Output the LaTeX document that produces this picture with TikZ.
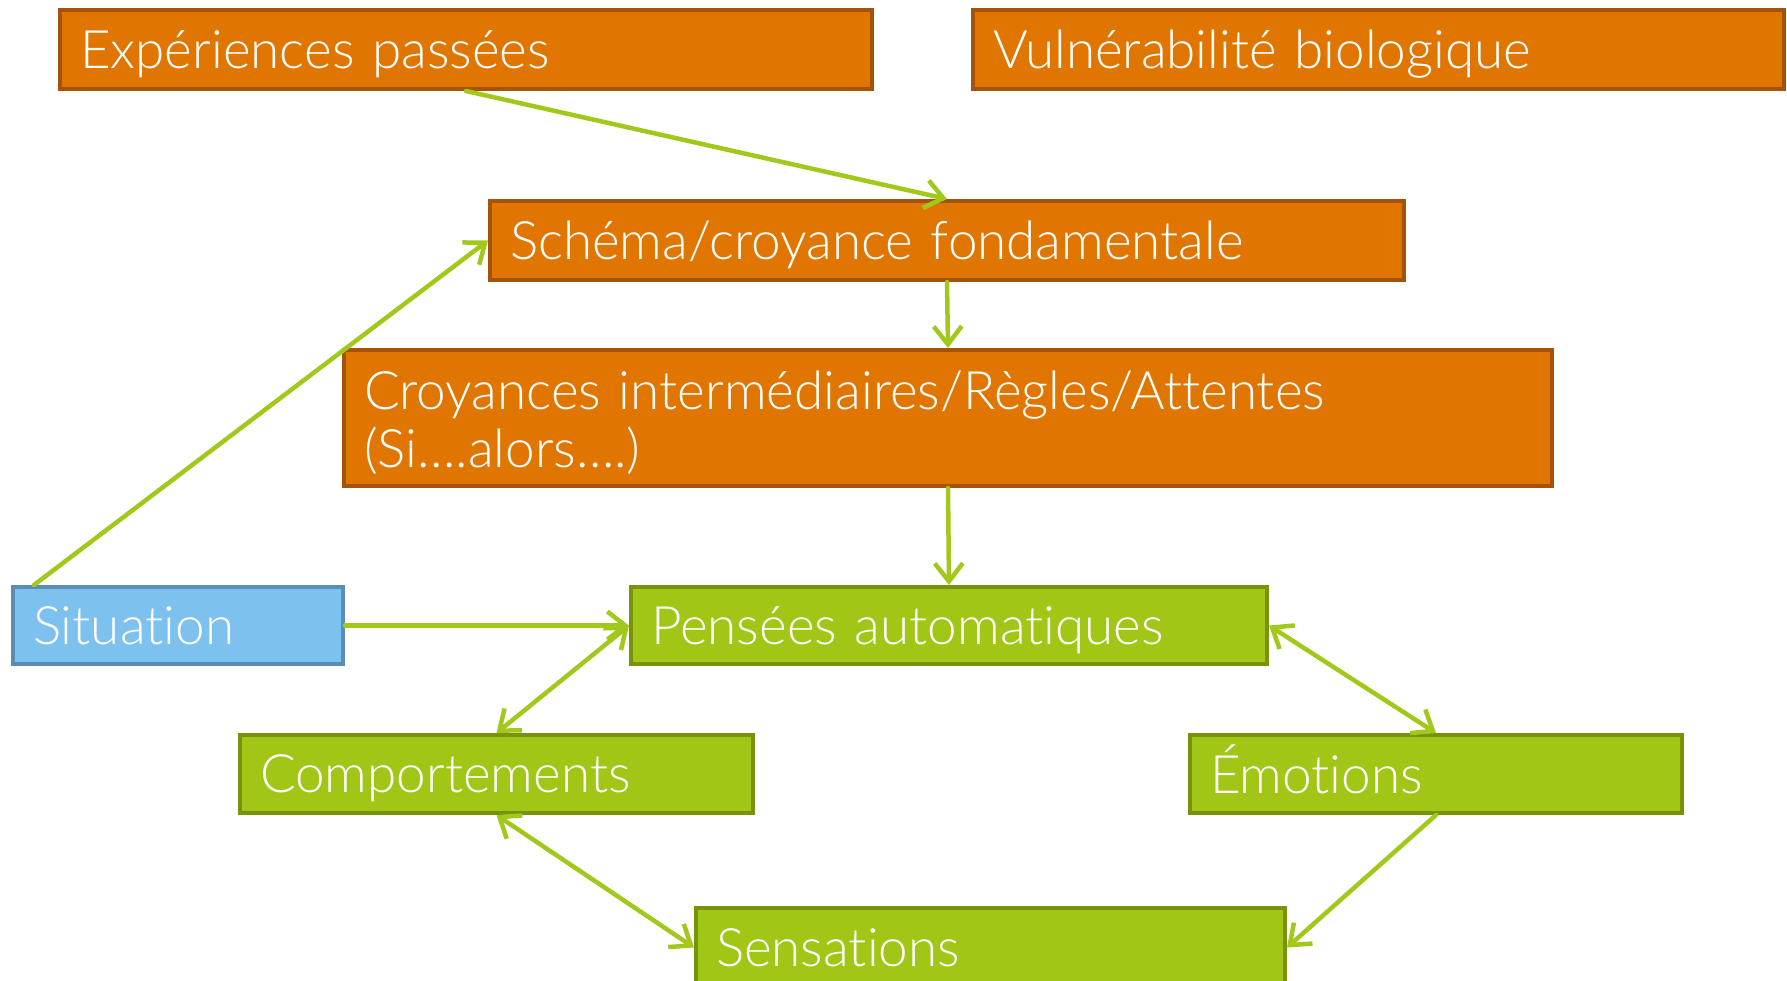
\documentclass[tikz,border=0pt]{standalone}
\usepackage{fontspec}
\setmainfont{Lato Light}[Ligatures=NoCommon]
\usetikzlibrary{arrows.meta}
\definecolor{orfill}{HTML}{E07600}
\definecolor{ordraw}{HTML}{A5530A}
\definecolor{grfill}{HTML}{A2C615}
\definecolor{grdraw}{HTML}{789209}
\definecolor{blfill}{HTML}{7DC1EE}
\definecolor{bldraw}{HTML}{5A8DB5}
\definecolor{link}{HTML}{A3C81C}
\newcommand\bstrut{\rule[-0.2em]{0pt}{1.1em}}

\begin{document}
\begin{tikzpicture}[x=1pt,y=-1pt,font=\fontsize{53}{58}\selectfont,
  >={Straight Barb[length=18pt,width=28pt]},
  box/.style={draw,line width=4pt,text=white,anchor=north west,align=left,inner xsep=20pt,inner ysep=0pt,execute at begin node=\bstrut},
  obox/.style={box,fill=orfill,draw=ordraw},
  gbox/.style={box,fill=grfill,draw=grdraw},
  bbox/.style={box,fill=blfill,draw=bldraw},
  arr/.style={draw=link,line width=4.5pt,line cap=round}]
\useasboundingbox (0,0) rectangle (1787,980);

\node[obox,text width=772pt,minimum height=79pt] (exp) at (58,8) {Expériences passées};
\node[obox,text width=771pt,minimum height=79pt] (vul) at (971,8) {Vulnérabilité biologique};
\node[obox,text width=874pt,minimum height=79pt] (sch) at (488,199) {Schéma/croyance fondamentale};
\node[obox,text width=1168pt,minimum height=136pt] (cro) at (342,348) {Croyances intermédiaires/Règles/Attentes\\(Si….alors….)};
\node[bbox,text width=290pt,minimum height=77pt] (sit) at (11,585) {Situation};
\node[gbox,text width=596pt,minimum height=77pt] (pen) at (629,585) {Pensées automatiques};
\node[gbox,text width=473pt,minimum height=78pt] (com) at (238,733) {Comportements};
\node[gbox,text width=452pt,minimum height=78pt] (emo) at (1188,733) {Émotions};
\node[gbox,text width=549pt,minimum height=79pt] (sen) at (694,906) {Sensations};

\draw[arr,->] (exp.south) -- (sch.north);
\draw[arr,->] ([xshift=23pt]sit.north west) -- (sch.west);
\draw[arr,->] (sch.south) -- (cro.north);
\draw[arr,->] (cro.south) -- (pen.north);
\draw[arr,->] (sit.east) -- (pen.west);
\draw[arr,<->] (pen.west) -- (com.north);
\draw[arr,<->] (pen.east) -- (emo.north);
\draw[arr,<->] (com.south) -- (sen.west);
\draw[arr,->] (emo.south) -- (sen.east);
\end{tikzpicture}
\end{document}
